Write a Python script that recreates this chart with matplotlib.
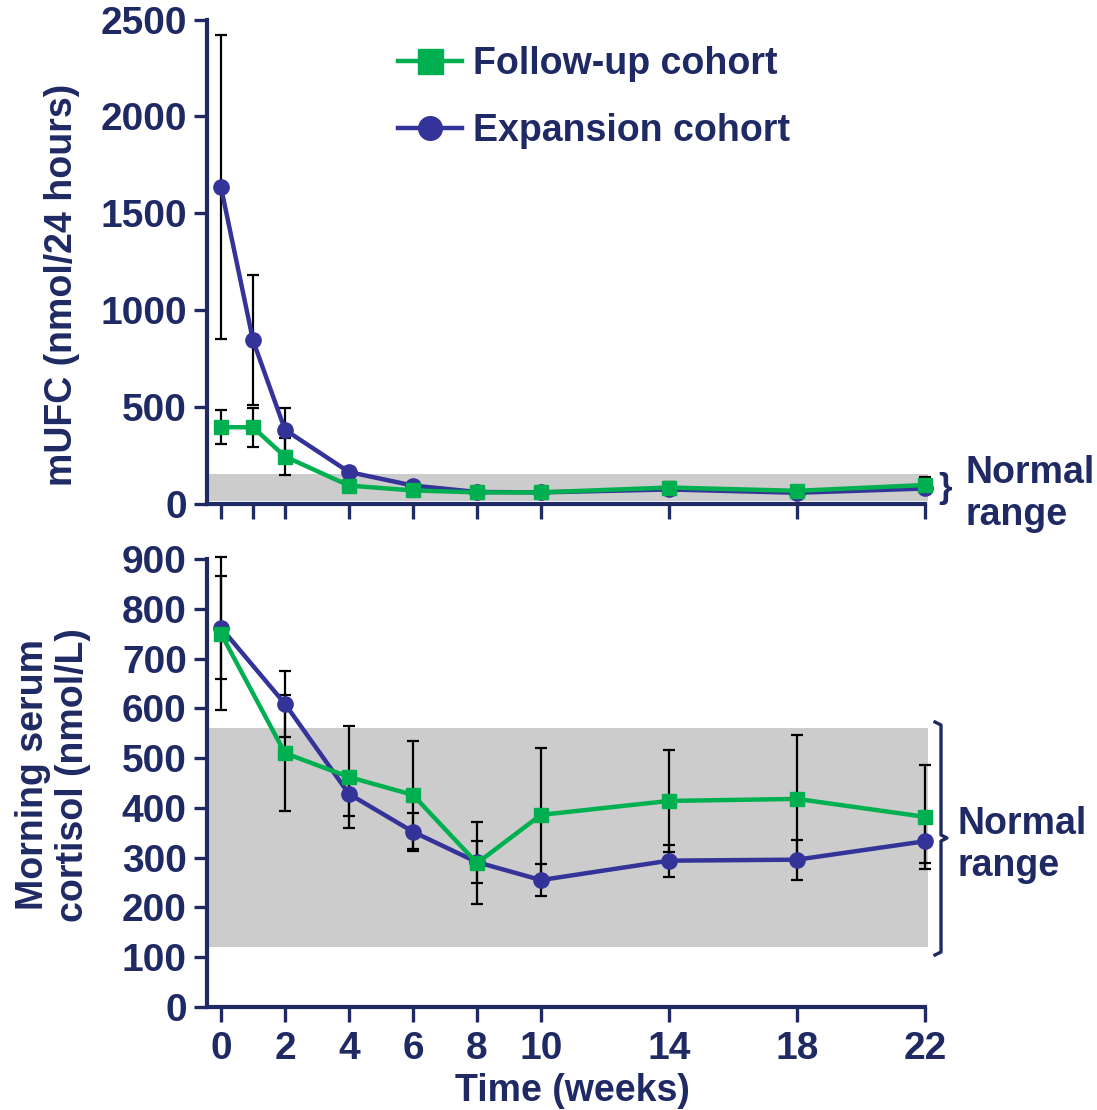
import numpy as np
import matplotlib
matplotlib.use("Agg")
import matplotlib.pyplot as plt
from matplotlib.lines import Line2D

plt.rcParams['font.family'] = ['Liberation Sans', 'DejaVu Sans']
plt.rcParams['font.weight'] = 'bold'

## values
weeks_mufc = [0, 1, 2, 4, 6, 8, 10, 14, 18, 22]
fu_mufc = [396, 396, 245, 95, 70, 60, 60, 85, 68, 98]
fu_mufc_err = [88, 100, 97, 20, 15, 15, 15, 30, 15, 42]
exp_mufc = [1635, 845, 383, 165, 95, 62, 60, 75, 58, 80]
exp_mufc_err = [785, 335, 112, 25, 20, 12, 12, 20, 12, 20]
mufc_normal = (17, 154)

weeks_cort = [0, 2, 4, 6, 8, 10, 14, 18, 22]
fu_cort = [750, 510, 462, 426, 289, 386, 414, 418, 382]
fu_cort_err = [154, 116, 102, 108, 83, 134, 102, 128, 104]
exp_cort = [762, 609, 428, 352, 291, 255, 294, 296, 333]
exp_cort_err = [104, 67, 44, 38, 42, 33, 32, 40, 44]
cort_normal = (120, 560)

x_ticks_top = [0, 1, 2, 4, 6, 8, 10, 14, 18, 22]
x_ticks_bot = [0, 2, 4, 6, 8, 10, 14, 18, 22]

NAVY = '#1f2a64'
BLUE = '#333399'
GREEN = '#00b050'
SHADE = '#cccccc'
FS = 27      # titles, legend
TFS = 28     # tick labels

W, H = 1097, 1110
fig = plt.figure(figsize=(W / 100, H / 100), dpi=100)


def px_axes(x0, y0, x1, y1):
    return fig.add_axes([x0 / W, 1 - y1 / H, (x1 - x0) / W, (y1 - y0) / H])


def style(ax, ticks, ymax, yticks, xlabels):
    ax.set_xlim(-0.44, 22.1)
    ax.set_ylim(0, ymax)
    for s in ('top', 'right'):
        ax.spines[s].set_visible(False)
    for s in ('left', 'bottom'):
        ax.spines[s].set_color(NAVY)
        ax.spines[s].set_linewidth(3)
    ax.spines['bottom'].set_bounds(-0.44, 22.0)
    ax.set_xticks(ticks)
    ax.set_yticks(yticks)
    ax.tick_params(axis='x', direction='out', length=11, width=2.4, color=NAVY,
                   labelsize=TFS, labelcolor=NAVY, pad=6, labelbottom=xlabels)
    ax.tick_params(axis='y', direction='out', length=9.5, width=2.4, color=NAVY,
                   labelsize=TFS, labelcolor=NAVY, pad=5)
    for lab in ax.get_xticklabels() + ax.get_yticklabels():
        lab.set_fontweight('bold')


def draw(ax, x, y, err, color, marker, ms):
    ax.errorbar(x, y, yerr=err, fmt='none', ecolor='black', elinewidth=1.6,
                capsize=4, capthick=1.6, zorder=3, clip_on=False)
    ax.plot(x, y, color=color, lw=3.2, marker=marker, ms=ms, zorder=4, clip_on=False)


# top panel: mUFC
ax1 = px_axes(206.9, 19.5, 928.2, 504)
ax1.axhspan(*mufc_normal, color=SHADE, lw=0, zorder=1)
draw(ax1, weeks_mufc, exp_mufc, exp_mufc_err, BLUE, 'o', 11)
draw(ax1, weeks_mufc, fu_mufc, fu_mufc_err, GREEN, 's', 10.5)
style(ax1, x_ticks_top, 2500, [0, 500, 1000, 1500, 2000, 2500], False)

# bottom panel: morning serum cortisol
ax2 = px_axes(206.9, 559, 928.2, 1007)
ax2.axhspan(*cort_normal, color=SHADE, lw=0, zorder=1)
draw(ax2, weeks_cort, exp_cort, exp_cort_err, BLUE, 'o', 11)
draw(ax2, weeks_cort, fu_cort, fu_cort_err, GREEN, 's', 10.5)
style(ax2, x_ticks_bot, 900, list(range(0, 901, 100)), True)

# axis titles
fig.text(62 / W, 1 - 285 / H, 'mUFC (nmol/24 hours)', rotation=90, ha='center',
         va='center', fontsize=FS, color=NAVY, fontweight='bold')
fig.text(53 / W, 1 - 775 / H, 'Morning serum\ncortisol (nmol/L)', rotation=90,
         ha='center', va='center', ma='center', fontsize=FS, color=NAVY,
         fontweight='bold', linespacing=1.15)
fig.text(572 / W, 1 - 1091 / H, 'Time (weeks)', ha='center', va='center',
         fontsize=FS, color=NAVY, fontweight='bold')

# normal range annotations
fig.text(945 / W, 1 - 489 / H, '}', ha='center', va='center', fontsize=FS - 2,
         color=NAVY, fontweight='bold')
fig.text(965 / W, 1 - 494 / H, 'Normal\nrange', ha='left', va='center',
         fontsize=FS, color=NAVY, fontweight='bold', linespacing=1.2)

bx = [935 / W, 941 / W, 941 / W, 947 / W, 941 / W, 941 / W, 935 / W]
by = [1 - 722 / H, 1 - 725 / H, 1 - 835 / H, 1 - 838 / H, 1 - 841 / H, 1 - 952 / H, 1 - 955 / H]
fig.add_artist(Line2D(bx, by, color=NAVY, lw=2.4, solid_joinstyle='round',
                      transform=fig.transFigure))
fig.text(958 / W, 1 - 845 / H, 'Normal\nrange', ha='left', va='center',
         fontsize=FS, color=NAVY, fontweight='bold', linespacing=1.2)

# legend
handles = [Line2D([], [], color=GREEN, lw=3.2, marker='s', ms=18),
           Line2D([], [], color=BLUE, lw=3.2, marker='o', ms=17)]
leg = fig.legend(handles, ['Follow-up cohort', 'Expansion cohort'], loc='upper left',
                 bbox_to_anchor=(398 / W, 1 - 46 / H), frameon=False, borderpad=0,
                 borderaxespad=0, handlelength=1.7, handletextpad=0.3,
                 labelspacing=0.82, prop={'size': FS, 'weight': 'bold'})
for t in leg.get_texts():
    t.set_color(NAVY)

fig.savefig('out.png', dpi=100)
